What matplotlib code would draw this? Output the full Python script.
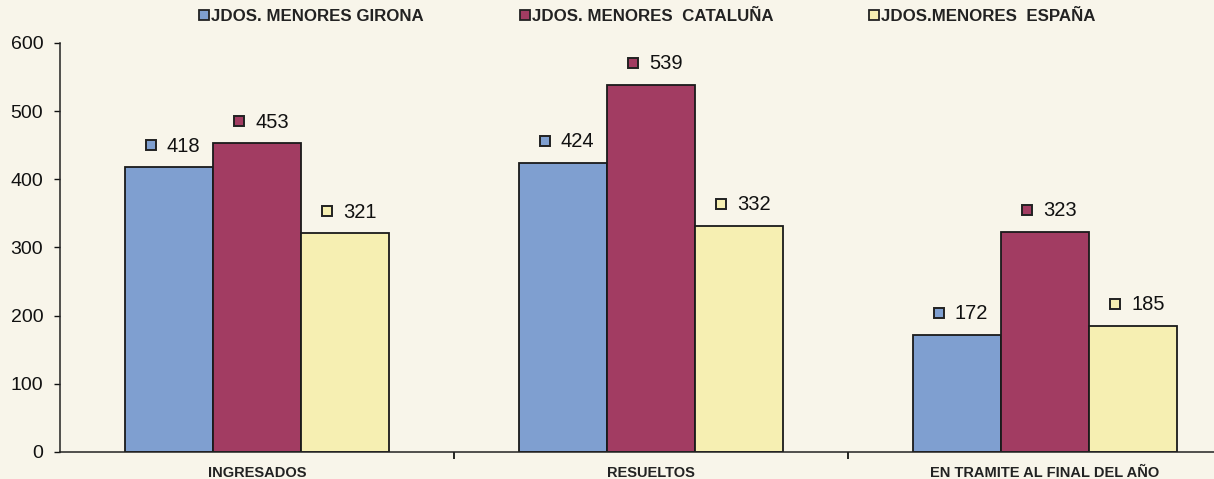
import numpy as np
import matplotlib.pyplot as plt
import matplotlib.transforms as mtrans
from matplotlib.lines import Line2D

plt.rcParams["font.family"] = ["Liberation Sans", "DejaVu Sans"]

# --- data ---
categories = ["INGRESADOS", "RESUELTOS", "EN TRAMITE AL FINAL DEL AÑO"]
series_names = ["JDOS. MENORES GIRONA", "JDOS. MENORES  CATALUÑA", "JDOS.MENORES  ESPAÑA"]
girona = [418, 424, 172]
cataluna = [453, 539, 323]
espana = [321, 332, 185]
series_values = [girona, cataluna, espana]
colors = ["#7f9fd0", "#a23c62", "#f6efb2"]
bg = "#f8f5ea"

fig = plt.figure(figsize=(12.14, 4.79), dpi=100, facecolor=bg)
ax = fig.add_axes([0.0494, 0.0564, 0.9736, 0.854])
ax.set_facecolor(bg)

x = np.arange(len(categories))
w = 0.224
for i, (vals, col) in enumerate(zip(series_values, colors)):
    xs = x + (i - 1) * w
    ax.bar(xs, vals, width=w, color=col, edgecolor="#1a1a1a", linewidth=1.3, zorder=2)
    mk_tr = mtrans.offset_copy(ax.transData, fig=fig, x=-18, y=22, units="dots")
    for xi, v in zip(xs, vals):
        ax.plot(xi, v, marker="s", markersize=7, color=col, markeredgecolor="#222222",
                markeredgewidth=1.4, transform=mk_tr, clip_on=False, zorder=3)
        ax.annotate(str(v), (xi, v), xytext=(15, 21), textcoords="offset pixels",
                    ha="center", va="center", fontsize=14.5, color="#111111")

ax.set_xlim(-0.5, 2.5)
ax.set_ylim(0, 600)
ax.set_yticks(range(0, 601, 100))
ax.tick_params(axis="y", labelsize=14, length=4, width=1, pad=8, colors="#111111")
ax.set_xticks(x)
ax.set_xticklabels(categories, fontsize=10.5, fontweight="bold", color="#222222")
ax.tick_params(axis="x", length=0, pad=10)
ax.set_xticks([0.5, 1.5], minor=True)
ax.tick_params(axis="x", which="minor", length=5, width=1.2)
for s in ["top", "right"]:
    ax.spines[s].set_visible(False)
for s in ["left", "bottom"]:
    ax.spines[s].set_color("#222222")
    ax.spines[s].set_linewidth(1.1)

handles = [Line2D([], [], linestyle="none", marker="s", markersize=6.5, color=c,
                  markeredgecolor="#222222", markeredgewidth=1.3) for c in colors]
leg = fig.legend(handles, series_names, loc="center left", bbox_to_anchor=(0.151, 0.965),
                 ncol=3, frameon=False, handletextpad=0.05, handlelength=0.7,
                 columnspacing=5.6, prop={"size": 12.2, "weight": "bold"},
                 labelcolor="#222222")

fig.savefig("out.png", dpi=100, facecolor=bg)
